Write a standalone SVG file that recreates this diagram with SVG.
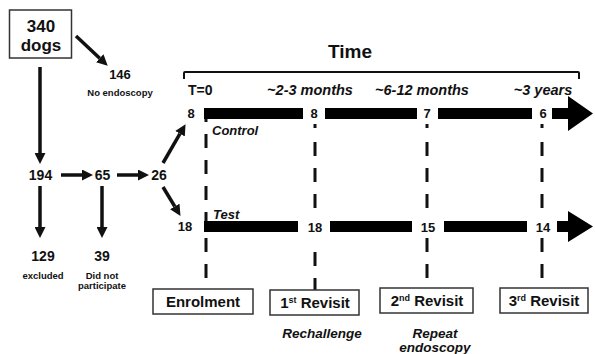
<svg xmlns="http://www.w3.org/2000/svg" width="595" height="354" viewBox="0 0 595 354">
<style>
text{font-family:"Liberation Sans",Arial,sans-serif;font-weight:bold;fill:#111;text-anchor:middle}
.it{font-style:italic}
.arr{stroke:#111;stroke-width:3.5;fill:none;marker-end:url(#ah)}
.dash{stroke:#111;stroke-width:3;stroke-dasharray:14 12;fill:none}
.box{fill:#fff;stroke:#333;stroke-width:1.5}
.bar{fill:#000}
</style>
<defs>
<marker id="ah" markerUnits="userSpaceOnUse" markerWidth="11" markerHeight="11" refX="0" refY="5" orient="auto" viewBox="0 0 10 10"><path d="M0,0 L10,5 L0,10 z" fill="#111"/></marker>
</defs>
<rect width="595" height="354" fill="#fff"/>

<g id="connectors">
<line class="arr" x1="76" y1="36" x2="99.7" y2="58.2"/>
<line class="arr" x1="40" y1="67" x2="40" y2="153"/>
<line class="arr" x1="61" y1="175" x2="82" y2="175"/>
<line class="arr" x1="117" y1="175" x2="138" y2="175"/>
<line class="arr" x1="163" y1="163" x2="180" y2="133.7"/>
<line class="arr" x1="163" y1="187" x2="174.8" y2="206.5"/>
<line class="arr" x1="40" y1="186" x2="40" y2="227"/>
<line class="arr" x1="102" y1="186" x2="102" y2="227"/>
<line class="dash" x1="206" y1="108" x2="206" y2="289"/>
<line x1="315" y1="124" x2="315" y2="128" stroke="#111" stroke-width="3"/>
<line class="dash" x1="315" y1="142" x2="315" y2="218"/>
<line class="dash" x1="315" y1="252" x2="315" y2="290"/>
<line x1="427" y1="124" x2="427" y2="128" stroke="#111" stroke-width="3"/>
<line class="dash" x1="427" y1="142" x2="427" y2="218"/>
<line class="dash" x1="427" y1="238" x2="427" y2="288"/>
<line x1="542" y1="124" x2="542" y2="128" stroke="#111" stroke-width="3"/>
<line class="dash" x1="542" y1="142" x2="542" y2="218"/>
<line class="dash" x1="542" y1="238" x2="542" y2="288"/>
</g>

<g id="n340">
<rect class="box" x="9.5" y="10" width="62" height="48"/>
<text x="41" y="32" font-size="17">340</text>
<text x="41" y="51" font-size="17">dogs</text>
</g>
<g id="n146">
<text x="120" y="79" font-size="13">146</text>
<text x="120" y="96" font-size="9.5">No endoscopy</text>
</g>
<g id="n194"><text x="40.5" y="180" font-size="14">194</text></g>
<g id="n65"><text x="102.5" y="180" font-size="14">65</text></g>
<g id="n26"><text x="159" y="180" font-size="14">26</text></g>
<g id="n129">
<text x="43" y="261" font-size="14">129</text>
<text x="43" y="279" font-size="9.5">excluded</text>
</g>
<g id="n39">
<text x="102" y="261" font-size="14">39</text>
<text x="102" y="279" font-size="9.5">Did not</text>
<text x="102" y="289" font-size="9.5">participate</text>
</g>

<g id="time">
<text x="350" y="58" font-size="19">Time</text>
<path d="M184,79 L184,73 Q184,72 185,72 L578,72 Q579,72 579,73 L579,79" fill="none" stroke="#111" stroke-width="2"/>
<text x="188" y="95" font-size="14" style="text-anchor:start">T=0</text>
<text x="310" y="95" font-size="14.5" class="it">~2-3 months</text>
<text x="422" y="95" font-size="14.5" class="it">~6-12 months</text>
<text x="543" y="95" font-size="14.5" class="it">~3 years</text>
</g>

<g id="control">
<text x="191" y="118" font-size="13">8</text>
<rect class="bar" x="204" y="108" width="99" height="11"/>
<text x="314" y="118" font-size="13">8</text>
<rect class="bar" x="325" y="108" width="92" height="11"/>
<text x="427" y="118" font-size="13">7</text>
<rect class="bar" x="438" y="108" width="94" height="11"/>
<text x="543" y="118" font-size="13">6</text>
<path class="bar" d="M552,108 L568,108 L568,96 L593,113.5 L568,131 L568,119 L552,119 z"/>
<text x="212" y="135" font-size="13" class="it" style="text-anchor:start">Control</text>
</g>

<g id="test">
<text x="185" y="231" font-size="13">18</text>
<rect class="bar" x="204" y="221" width="94" height="11"/>
<text x="315" y="232" font-size="13">18</text>
<rect class="bar" x="330" y="221" width="82" height="11"/>
<text x="428" y="232" font-size="13">15</text>
<rect class="bar" x="444" y="221" width="83" height="11"/>
<text x="543" y="232" font-size="13">14</text>
<path class="bar" d="M557,221 L568,221 L568,211 L593,226.5 L568,242 L568,232 L557,232 z"/>
<text x="213" y="219" font-size="13" class="it" style="text-anchor:start">Test</text>
</g>

<g id="enrolment">
<rect class="box" x="153" y="289" width="100" height="25"/>
<text x="203" y="307" font-size="15">Enrolment</text>
</g>
<g id="revisit1">
<rect class="box" x="270" y="290" width="89" height="25"/>
<text x="315" y="308" font-size="15">1<tspan font-size="9" dy="-5">st</tspan><tspan dy="5"> Revisit</tspan></text>
<text x="322" y="338" font-size="13.5" class="it">Rechallenge</text>
</g>
<g id="revisit2">
<rect class="box" x="380" y="288" width="93" height="25"/>
<text x="427" y="306" font-size="15">2<tspan font-size="9" dy="-5">nd</tspan><tspan dy="5"> Revisit</tspan></text>
<text x="435" y="338" font-size="13.5" class="it">Repeat</text>
<text x="435" y="352" font-size="13.5" class="it">endoscopy</text>
</g>
<g id="revisit3">
<rect class="box" x="500" y="288" width="88" height="25"/>
<text x="544" y="306" font-size="15">3<tspan font-size="9" dy="-5">rd</tspan><tspan dy="5"> Revisit</tspan></text>
</g>
</svg>
